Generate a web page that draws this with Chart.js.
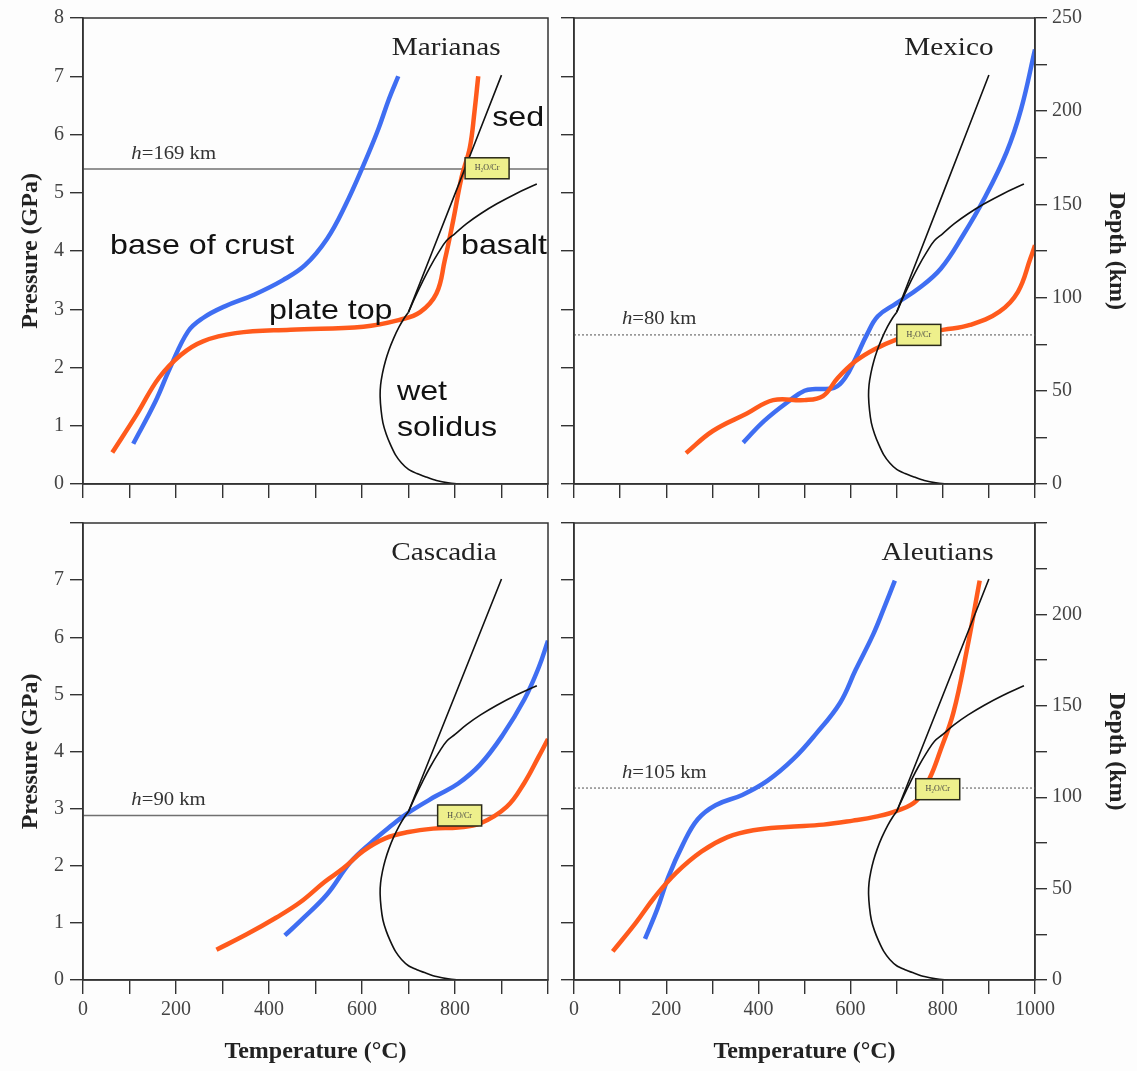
<!DOCTYPE html>
<html lang="en">
<head>
<meta charset="UTF-8">
<title>Slab surface P-T paths</title>
<script src="https://cdn.jsdelivr.net/npm/chart.js"></script>
<style>
  body { margin: 0; background: #fff; }
  #wrap { position: relative; width: 1137px; height: 1071px; overflow: hidden; background: #fdfdfd; }
  .panel { position: absolute; }
</style>
</head>
<body>
<div id="wrap">
  <div class="panel" style="left:0;top:0;width:560px;height:510px"><canvas id="c0"></canvas></div>
  <div class="panel" style="left:560px;top:0;width:577px;height:510px"><canvas id="c1"></canvas></div>
  <div class="panel" style="left:0;top:505px;width:560px;height:566px"><canvas id="c2"></canvas></div>
  <div class="panel" style="left:560px;top:505px;width:577px;height:566px"><canvas id="c3"></canvas></div>
</div>
<script>
// ---- data: [temperature °C, pressure GPa] ----
const wetSolidus = [[812,0],[785,0.02],[760,0.06],[738,0.12],[718,0.18],[700,0.25],[685,0.36],[672,0.5],
  [661,0.68],[652,0.86],[645,1.05],[641,1.27],[639,1.5],[640,1.7],[644,1.9],[650,2.1],[658,2.3],[668,2.5],
  [680,2.7],[691,2.85],[700,2.95]];
const sedSolidus = [[700,2.95],[800,4.98],[900,7.02]];
const basaltSolidus = [[700,2.95],[715,3.22],[730,3.47],[746,3.72],[765,3.98],[782,4.18],[800,4.3],
  [825,4.47],[855,4.64],[890,4.81],[930,4.98],[976,5.15]];

const marianasCrust = [[108,0.69],[156,1.42],[187,1.99],[226,2.62],[258,2.85],[305,3.05],[368,3.25],[430,3.5],
  [478,3.76],[525,4.21],[564,4.78],[603,5.47],[635,6.09],[658,6.61],[678,7.0]];
const marianasTop = [[63,0.54],[116,1.2],[163,1.82],[211,2.22],[258,2.45],[328,2.59],[446,2.65],[603,2.7],
  [682,2.82],[725,2.95],[760,3.27],[778,3.84],[796,4.52],[814,5.26],[832,5.78],[842,6.4],[850,7.0]];

const mexicoCrust = [[367,0.71],[412,1.08],[469,1.44],[500,1.6],[524,1.63],[564,1.65],[588,1.82],[611,2.16],
  [635,2.56],[659,2.88],[699,3.1],[748,3.36],[796,3.7],[844,4.27],[890,4.9],[938,5.69],[970,6.44],[1000,7.46]];
const mexicoTop = [[243,0.53],[301,0.91],[375,1.21],[432,1.44],[500,1.44],[540,1.51],[572,1.82],[611,2.11],
  [651,2.31],[699,2.48],[748,2.59],[803,2.65],[859,2.73],[923,2.96],[963,3.3],[990,3.87],[1000,4.1]];

const cascadiaCrust = [[434,0.78],[467,1.03],[525,1.5],[574,2.05],[619,2.4],[666,2.72],[696,2.91],[759,3.22],
  [807,3.44],[854,3.77],[902,4.28],[949,4.91],[980,5.47],[1000,5.94]];
const cascadiaTop = [[287,0.53],[352,0.8],[415,1.09],[467,1.36],[520,1.72],[559,1.95],[603,2.26],[650,2.48],
  [700,2.59],[753,2.65],[807,2.67],[854,2.74],[911,3.03],[949,3.45],[980,3.91],[1000,4.22]];

const aleutiansCrust = [[154,0.72],[181,1.25],[205,1.81],[236,2.37],[268,2.81],[307,3.06],[365,3.24],[420,3.49],
  [476,3.87],[524,4.3],[577,4.85],[611,5.43],[649,6.05],[672,6.5],[696,6.99]];
const aleutiansTop = [[84,0.5],[134,1.0],[174,1.44],[221,1.87],[277,2.25],[333,2.5],[389,2.62],[461,2.68],
  [541,2.72],[605,2.79],[655,2.86],[700,2.96],[743,3.14],[772,3.54],[794,4.0],[823,4.68],[852,5.77],[880,6.99]];

const panelNames = ['Marianas', 'Mexico', 'Cascadia', 'Aleutians'];
const slabDepthKm = [169, 80, 90, 105];        // h, depth to slab below arc
const crustPaths = [marianasCrust, mexicoCrust, cascadiaCrust, aleutiansCrust];
const topPaths = [marianasTop, mexicoTop, cascadiaTop, aleutiansTop];
const boxAt = [[869, 5.42], [748, 2.56], [810, 2.88], [789, 3.34]];
const tempTicks = [0, 200, 400, 600, 800, 1000];
const KM_PER_GPA = 31.25;

// ---- styling / layout ----
const SERIF = '"Liberation Serif", "DejaVu Serif", serif';
const SANS = '"Liberation Sans", Arial, sans-serif';
const BLUE = '#3f6ef2', ORANGE = '#ff5a1c', INK = '#333';
const layouts = [
  { col: 0, row: 0 }, { col: 1, row: 0 }, { col: 0, row: 1 }, { col: 1, row: 1 }
];
const titleRightT = [898, 910, 890, 910];

function pts(arr) { return arr.map(([x, y]) => ({ x, y })); }

function say(ctx, text, x, y, font, align, sx, color) {
  ctx.save();
  ctx.font = font;
  ctx.fillStyle = color || '#111';
  ctx.textAlign = align;
  ctx.textBaseline = 'middle';
  ctx.translate(x, y);
  ctx.scale(sx, 1);
  ctx.fillText(text, 0, 0);
  ctx.restore();
}

function notesPlugin(i) {
  return {
    id: 'notes' + i,
    afterDatasetsDraw(chart) {
      const { ctx, chartArea: a, scales } = chart;
      const X = v => scales.x.getPixelForValue(v);
      const Y = v => scales.y.getPixelForValue(v);

      // frame
      ctx.save();
      ctx.strokeStyle = INK;
      ctx.lineWidth = 1.5;
      ctx.strokeRect(a.left, a.top, a.right - a.left, a.bottom - a.top);
      ctx.restore();

      // panel name
      say(ctx, panelNames[i], X(titleRightT[i]), Y(7.47), '25px ' + SERIF, 'right', 1.17, '#222');

      // h label
      const hP = slabDepthKm[i] / KM_PER_GPA;
      const hx = X(104), hy = Y(hP + 0.26);
      ctx.save();
      ctx.font = 'italic 18px ' + SERIF;
      const w = ctx.measureText('h').width * 1.15;
      ctx.restore();
      say(ctx, 'h', hx, hy, 'italic 18px ' + SERIF, 'left', 1.15, '#333');
      say(ctx, '=' + slabDepthKm[i] + ' km', hx + w, hy, '18px ' + SERIF, 'left', 1.15, '#333');

      // H2O box
      const bx = X(boxAt[i][0]), by = Y(boxAt[i][1]);
      ctx.save();
      ctx.fillStyle = '#eef08c';
      ctx.strokeStyle = '#2a2a1a';
      ctx.lineWidth = 1.5;
      ctx.fillRect(bx - 22, by - 10.5, 44, 21);
      ctx.strokeRect(bx - 22, by - 10.5, 44, 21);
      ctx.restore();
      say(ctx, 'H\u2082O/Cr', bx, by, '8px ' + SERIF, 'center', 1, '#444');

      if (i === 0) {
        const f = '28px ' + SANS;
        say(ctx, 'sed', X(880), Y(6.27), f, 'left', 1.15);
        say(ctx, 'base of crust', X(58), Y(4.08), f, 'left', 1.15);
        say(ctx, 'basalt', X(813), Y(4.08), f, 'left', 1.15);
        say(ctx, 'plate top', X(400), Y(2.96), f, 'left', 1.15);
        say(ctx, 'wet', X(675), Y(1.58), f, 'left', 1.15);
        say(ctx, 'solidus', X(675), Y(0.96), f, 'left', 1.15);
      }
    }
  };
}

function line(data, color, width, order, dash) {
  return {
    data: pts(data), showLine: true, borderColor: color, backgroundColor: color,
    borderWidth: width, pointRadius: 0, tension: 0.4, order, borderDash: dash || [], fill: false
  };
}

function makePanel(i) {
  const { col, row } = layouts[i];
  const isLeft = col === 0, isTop = row === 0;
  const hP = slabDepthKm[i] / KM_PER_GPA;
  const dotted = i === 1 || i === 3;

  const tickFont = { family: SERIF, size: 20 };
  const grid = { drawOnChartArea: false, drawTicks: true, tickLength: 13, color: INK, lineWidth: 1.4 };
  const border = { color: INK, width: 1.5 };
  const titleFont = { family: SERIF, size: 24, weight: 'bold' };

  const scales = {
    x: {
      type: 'linear', min: 0, max: 1000,
      ticks: {
        stepSize: 100, autoSkip: false, maxRotation: 0, padding: 4, color: '#444', font: tickFont,
        callback: v => (!isTop && tempTicks.includes(v) && (isLeft ? v < 1000 : true)) ? String(v) : ''
      },
      grid: Object.assign({}, grid, { tickLength: 14 }),
      border,
      title: { display: !isTop, text: 'Temperature (\u00b0C)', font: titleFont, color: '#222', padding: { top: 0, bottom: 5 } },
      afterFit: s => { s.height = isTop ? 26 : 91; }
    },
    y: {
      type: 'linear', position: 'left', min: 0, max: 8,
      ticks: {
        stepSize: 1, autoSkip: false, padding: 6, color: '#444', font: tickFont,
        callback: v => (isLeft && (isTop || v < 8)) ? String(v) : ''
      },
      grid, border,
      title: { display: isLeft, text: 'Pressure (GPa)', font: titleFont, color: '#222', padding: { top: 16 } },
      afterFit: s => { s.width = isLeft ? 83 : 14; }
    }
  };
  if (!isLeft) {
    scales.y2 = {
      type: 'linear', position: 'right', min: 0, max: 8 * KM_PER_GPA,
      ticks: {
        stepSize: 25, autoSkip: false, padding: 5, color: '#444', font: tickFont,
        callback: v => (v % 50 === 0 && (isTop || v < 250)) ? String(v) : ''
      },
      grid: Object.assign({}, grid, { tickLength: 12 }), border,
      title: { display: true, text: 'Depth (km)', font: titleFont, color: '#222', padding: { top: 6 } },
      afterFit: s => { s.width = 102; }
    };
  }

  const hLine = line([[0, hP], [1000, hP]], dotted ? '#8a8a8a' : '#707070', 1.5, 9, dotted ? [2, 2] : []);
  hLine.tension = 0;
  const sed = line(sedSolidus, '#111', 1.6, 1);
  sed.tension = 0.2;
  const wet = line(wetSolidus, '#111', 1.6, 1);
  wet.tension = 0.3;

  new Chart(document.getElementById('c' + i), {
    type: 'scatter',
    data: {
      datasets: [
        hLine,
        line(crustPaths[i], BLUE, 4.5, 4),
        line(topPaths[i], ORANGE, 4.5, 3),
        wet,
        sed,
        line(basaltSolidus, '#111', 1.6, 1)
      ]
    },
    options: {
      responsive: true,
      maintainAspectRatio: false,
      animation: false,
      events: [],
      layout: { padding: { top: isTop ? 17 : 7, right: isLeft ? 12 : 0, left: 0, bottom: 0 } },
      plugins: { legend: { display: false }, tooltip: { enabled: false } },
      scales
    },
    plugins: [notesPlugin(i)]
  });
}

[0, 1, 2, 3].forEach(makePanel);
</script>
</body>
</html>
